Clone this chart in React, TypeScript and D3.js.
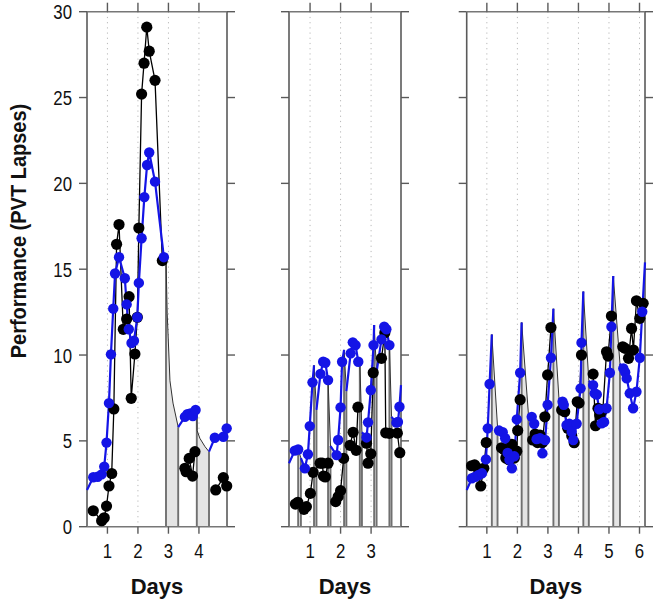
import React from "react";
import * as d3 from "d3";

type P = [number, number];

const yTicks = [0, 5, 10, 15, 20, 25, 30];
const yLabels = ["0", "5", "10", "15", "20", "25", "30"];
const titleY = "Performance (PVT Lapses)";
const titleX = "Days";

// ---------- Panel 1 ----------
const p1Days = [1, 2, 3, 4];
const p1Domain: P = [0.33, 4.92];
const p1Start: P = [0.33, 2.14];
const p1End: P = [4.92, 5.8];
const p1Sleeps: P[][] = [
  [[2.92, 15.6], [2.96, 12.4], [3.05, 8.5], [3.15, 7.2], [3.32, 5.8]],
  [[3.93, 6.9], [3.94, 5.6], [4.03, 5.15], [4.2, 4.66], [4.33, 4.37]],
];
const p1Blue: P[] = [
  [0.535, 2.88], [0.68, 2.91], [0.81, 3.05], [0.895, 3.5], [0.97, 4.9], [1.05, 7.2],
  [1.115, 10.04], [1.19, 12.7], [1.25, 14.75], [1.38, 15.7], [1.57, 14.47], [1.63, 12.95],
  [1.7, 11.5], [1.79, 10.7], [1.87, 10.83], [1.98, 12.2], [2.03, 14.2], [2.12, 16.8],
  [2.21, 19.2], [2.3, 21.07], [2.37, 21.8], [2.56, 20.1], [2.85, 15.7],
  [3.54, 6.4], [3.62, 6.55], [3.72, 6.6], [3.8, 6.45], [3.89, 6.8],
  [4.52, 5.18], [4.8, 5.24], [4.91, 5.73],
];
const p1Black: P[] = [
  [0.535, 0.93], [0.81, 0.35], [0.895, 0.52], [0.97, 1.2], [1.05, 2.37], [1.14, 3.1],
  [1.21, 6.86], [1.3, 16.45], [1.38, 17.6], [1.52, 11.5], [1.63, 12.1], [1.71, 13.4],
  [1.78, 7.48], [1.9, 10.06], [1.98, 12.2], [2.03, 17.4], [2.12, 25.2], [2.2, 27.0],
  [2.29, 29.1], [2.37, 27.7], [2.56, 26.0], [2.8, 15.5],
  [3.54, 3.4], [3.58, 3.2], [3.68, 3.98], [3.79, 2.95], [3.87, 4.37],
  [4.55, 2.14], [4.8, 2.86], [4.91, 2.37],
];

// ---------- Panel 2 ----------
const p2Days = [1, 2, 3];
const p2Domain: P = [0.31, 3.98];
const p2Start: P = [0.31, 3.7];
const p2End: P = [3.98, 8.25];
const p2Sleeps: P[][] = [
  [[0.61, 4.5], [0.7, 4.0]],
  [[1.13, 9.4], [1.21, 6.8]],
  [[1.59, 8.54], [1.67, 4.7]],
  [[2.115, 10.3], [2.19, 7.9]],
  [[2.63, 9.61], [2.7, 5.5]],
  [[3.1, 11.75], [3.18, 9.0]],
  [[3.6, 10.58], [3.67, 6.4]],
];
const p2Blue: P[] = [
  [0.5, 4.43], [0.61, 4.5],
  [0.83, 3.4], [0.93, 4.22], [0.99, 5.86], [1.08, 8.41],
  [1.34, 8.9], [1.43, 9.61], [1.5, 9.55], [1.59, 8.54],
  [1.87, 4.17], [1.92, 5.05], [2.0, 6.95], [2.05, 9.61],
  [2.33, 10.1], [2.4, 10.74], [2.49, 10.58], [2.58, 9.61],
  [2.85, 5.2], [2.9, 6.08], [2.99, 7.96], [3.08, 10.58],
  [3.34, 10.91], [3.43, 11.65], [3.5, 11.5], [3.6, 10.58],
  [3.83, 6.06], [3.88, 6.1], [3.93, 6.99],
];
const p2Black: P[] = [
  [0.52, 1.32], [0.6, 1.42],
  [0.8, 1.01], [0.88, 1.17], [1.01, 1.94], [1.1, 3.17],
  [1.33, 3.7], [1.4, 3.7], [1.44, 2.95], [1.5, 2.9], [1.59, 3.7],
  [1.84, 1.46], [1.92, 1.75], [2.0, 2.1], [2.1, 3.98],
  [2.31, 4.74], [2.41, 5.5], [2.51, 4.45], [2.57, 6.96],
  [2.85, 4.86], [2.9, 3.7], [2.99, 4.25], [3.07, 8.97],
  [3.34, 9.81], [3.45, 11.3], [3.48, 5.47], [3.6, 5.44],
  [3.86, 5.45], [3.94, 4.31],
];

// ---------- Panel 3 ----------
const p3Days = [1, 2, 3, 4, 5, 6];
const p3Domain: P = [0.34, 6.18];
const p3Start: P = [0.34, 2.14];
const p3End: P = [6.18, 15.4];
const p3Sleeps: P[][] = [
  [[1.163, 11.2], [1.35, 5.8]],
  [[2.14, 11.9], [2.36, 6.6]],
  [[3.18, 12.7], [3.36, 7.5]],
  [[4.16, 13.7], [4.34, 8.5]],
  [[5.14, 14.6], [5.36, 9.5]],
];
const p3Blue: P[] = [
  [0.51, 2.82], [0.62, 2.91], [0.73, 3.01], [0.84, 3.11], [0.97, 3.92], [1.03, 5.73], [1.09, 8.31],
  [1.4, 5.6], [1.52, 5.5], [1.6, 5.15], [1.68, 4.3], [1.74, 3.9], [1.82, 3.4], [1.9, 4.1], [1.98, 6.25], [2.09, 8.97],
  [2.47, 6.4], [2.55, 6.0], [2.63, 5.1], [2.74, 5.15], [2.82, 4.27], [2.91, 5.05], [2.99, 7.1], [3.1, 9.84],
  [3.48, 7.28], [3.52, 7.1], [3.61, 5.92], [3.7, 6.0], [3.78, 5.53], [3.83, 5.05], [3.94, 6.0], [4.07, 8.06], [4.1, 10.72],
  [4.48, 8.25], [4.53, 7.77], [4.6, 7.7], [4.68, 6.84], [4.76, 6.02], [4.84, 6.1], [4.92, 6.9], [5.03, 8.97], [5.08, 11.65],
  [5.47, 9.22], [5.53, 9.0], [5.58, 8.64], [5.68, 7.77], [5.79, 6.9], [5.9, 7.86], [6.01, 9.84], [6.09, 12.52],
];
const p3Black: P[] = [
  [0.5, 3.55], [0.6, 3.6], [0.7, 3.4], [0.8, 2.37], [0.9, 3.4], [0.98, 4.9],
  [1.48, 4.6], [1.56, 4.5], [1.62, 4.0], [1.72, 3.9], [1.82, 4.8], [1.9, 4.0], [1.98, 4.4], [2.01, 5.6], [2.09, 7.4],
  [2.5, 5.05], [2.58, 5.4], [2.66, 4.9], [2.74, 5.34], [2.82, 4.9], [2.9, 6.4], [2.99, 8.84], [3.1, 11.6],
  [3.45, 6.8], [3.55, 6.7], [3.65, 5.73], [3.78, 5.3], [3.86, 4.89], [3.96, 7.28], [4.02, 7.2], [4.1, 10.0],
  [4.48, 8.89], [4.56, 5.88], [4.64, 6.9], [4.7, 6.51], [4.8, 6.8], [4.92, 10.19], [4.97, 9.94], [5.08, 12.27],
  [5.45, 10.48], [5.53, 10.39], [5.64, 9.81], [5.74, 11.55], [5.8, 10.29], [5.9, 13.16], [6.01, 12.14], [6.12, 13.01],
];

const BLUE = "#1414e6";
const FRAME = "#5a5a5a";
const TICKFONT = "'Liberation Sans', Arial, sans-serif";

interface PanelProps {
  x0: number;
  x1: number;
  domain: P;
  days: number[];
  start: P;
  end: P;
  sleeps: P[][];
  blue: P[];
  black: P[];
  showY: boolean;
}

const Y0 = 526.7;
const Y1 = 11.7;

function Panel({ x0, x1, domain, days, start, end, sleeps, blue, black, showY }: PanelProps) {
  const x = d3.scaleLinear().domain(domain).range([x0, x1]);
  const y = d3.scaleLinear().domain([0, 30]).range([Y0, Y1]);

  const bounds: P[] = [start];
  sleeps.forEach((s) => {
    bounds.push(s[0]);
    bounds.push(s[s.length - 1]);
  });
  bounds.push(end);
  const wakes: [P, P][] = [];
  for (let i = 0; i < bounds.length; i += 2) wakes.push([bounds[i], bounds[i + 1]]);

  const blueSegs = wakes.map(([a, b]) => [a, ...blue.filter((p) => p[0] >= a[0] && p[0] <= b[0]), b]);
  const blackSegs = wakes.map(([a, b]) => black.filter((p) => p[0] >= a[0] && p[0] <= b[0]));

  const line = d3.line<P>().x((d) => x(d[0])).y((d) => y(d[1]));
  const area = d3
    .area<P>()
    .x((d) => x(d[0]))
    .y0(y(0))
    .y1((d) => y(d[1]));

  const cx = (x0 + x1) / 2;

  return (
    <g>
      {days.map((d) => (
        <line
          key={"g" + d}
          x1={x(d)}
          x2={x(d)}
          y1={y(30)}
          y2={y(0)}
          stroke="#b8b8b8"
          strokeWidth={1}
          strokeDasharray="1.2,4"
        />
      ))}
      {sleeps.map((s, i) => {
        const a = s[0];
        const b = s[s.length - 1];
        return (
          <g key={"s" + i}>
            <path d={area(s) || ""} fill="#e4e4e4" />
            <line x1={x(a[0])} x2={x(a[0])} y1={y(0)} y2={y(a[1])} stroke="#707070" strokeWidth={1.9} />
            <line x1={x(b[0])} x2={x(b[0])} y1={y(0)} y2={y(b[1])} stroke="#707070" strokeWidth={1.9} />
            <path d={line(s) || ""} fill="none" stroke="#333" strokeWidth={1} />
          </g>
        );
      })}
      <line x1={x0} x2={x0} y1={Y1} y2={Y0} stroke={FRAME} strokeWidth={1.6} />
      <line x1={x1} x2={x1} y1={Y1} y2={Y0} stroke={FRAME} strokeWidth={1.6} />
      {yTicks.map((t) => (
        <g key={"yt" + t}>
          <line x1={x0 - 8} x2={x0} y1={y(t)} y2={y(t)} stroke={FRAME} strokeWidth={1.4} />
          <line x1={x1} x2={x1 + 8} y1={y(t)} y2={y(t)} stroke={FRAME} strokeWidth={1.4} />
        </g>
      ))}
      <line x1={x0} x2={x1} y1={Y1} y2={Y1} stroke="#777" strokeWidth={1.4} />
      <line x1={x0} x2={x1} y1={Y0} y2={Y0} stroke="#777" strokeWidth={1.4} />
      {days.map((d) => (
        <g key={"xt" + d}>
          <line x1={x(d)} x2={x(d)} y1={Y1} y2={Y1 - 9} stroke={FRAME} strokeWidth={1.4} />
          <line x1={x(d)} x2={x(d)} y1={Y0} y2={Y0 + 7} stroke={FRAME} strokeWidth={1.4} />
          <text
            transform={`translate(${x(d)},558) scale(0.8,1)`}
            textAnchor="middle"
            fontFamily={TICKFONT}
            fontSize={21}
            fill="#111"
          >
            {d}
          </text>
        </g>
      ))}
      {showY &&
        yTicks.map((t, i) => (
          <text
            key={"yl" + t}
            transform={`translate(72,${y(t) + 7.5}) scale(0.8,1)`}
            textAnchor="end"
            fontFamily={TICKFONT}
            fontSize={21}
            fill="#111"
          >
            {yLabels[i]}
          </text>
        ))}
      <text
        x={cx}
        y={593.5}
        textAnchor="middle"
        fontFamily="'Liberation Sans', Arial, sans-serif"
        fontWeight="bold"
        fontSize={22}
        fill="#111"
      >
        {titleX}
      </text>
      {blackSegs.map((seg, i) => (
        <path key={"bl" + i} d={line(seg) || ""} fill="none" stroke="#000" strokeWidth={1.3} />
      ))}
      {blueSegs.map((seg, i) => (
        <path key={"bu" + i} d={line(seg) || ""} fill="none" stroke={BLUE} strokeWidth={2.2} />
      ))}
      {black.map((p, i) => (
        <circle key={"bd" + i} cx={x(p[0])} cy={y(p[1])} r={5.6} fill="#000" />
      ))}
      {blue.map((p, i) => (
        <circle key={"ud" + i} cx={x(p[0])} cy={y(p[1])} r={5.2} fill={BLUE} />
      ))}
    </g>
  );
}

export default function App() {
  return (
    <svg
      width={661}
      height={602}
      viewBox="0 0 661 602"
      style={{ position: "fixed", left: 0, top: 0, background: "#fff" }}
    >
      <rect x={0} y={0} width={661} height={602} fill="#fff" />
      <text
        transform="translate(26,231) rotate(-90) scale(0.91,1)"
        textAnchor="middle"
        fontFamily="'Liberation Sans', Arial, sans-serif"
        fontWeight="bold"
        fontSize={22}
        fill="#111"
      >
        {titleY}
      </text>
      <Panel x0={87} x1={227} domain={p1Domain} days={p1Days} start={p1Start} end={p1End}
        sleeps={p1Sleeps} blue={p1Blue} black={p1Black} showY={true} />
      <Panel x0={289} x1={401} domain={p2Domain} days={p2Days} start={p2Start} end={p2End}
        sleeps={p2Sleeps} blue={p2Blue} black={p2Black} showY={false} />
      <Panel x0={466.7} x1={645} domain={p3Domain} days={p3Days} start={p3Start} end={p3End}
        sleeps={p3Sleeps} blue={p3Blue} black={p3Black} showY={false} />
    </svg>
  );
}
